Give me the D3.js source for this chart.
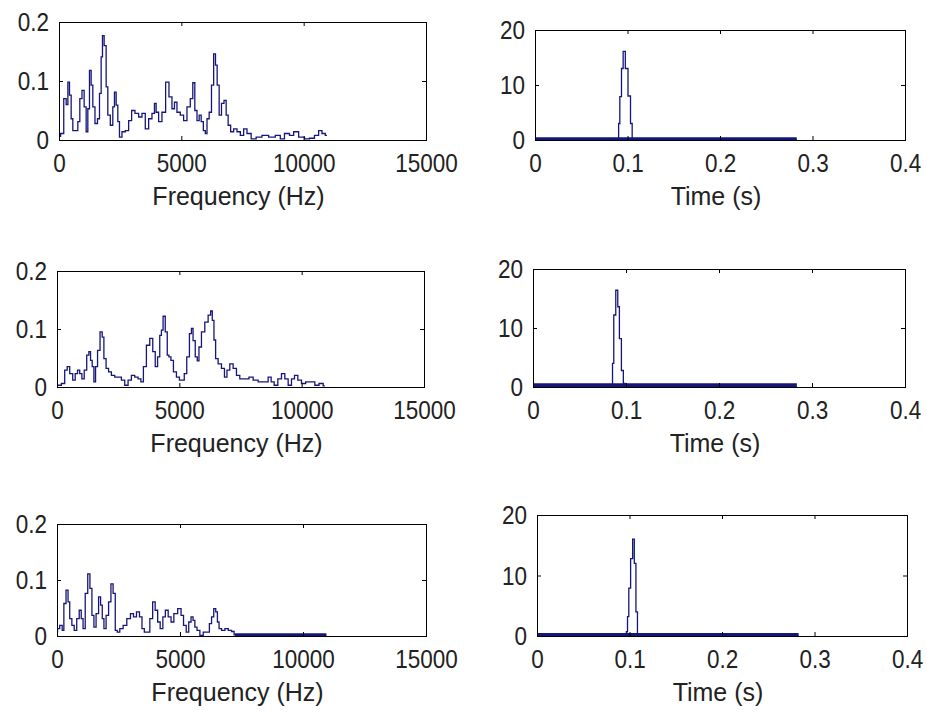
<!DOCTYPE html>
<html>
<head>
<meta charset="utf-8">
<script src="https://cdn.jsdelivr.net/npm/d3@7"></script>
<style>
  html, body { margin: 0; padding: 0; background: #fff; }
  svg { display: block; }
  text { font-family: "Liberation Sans", Arial, Helvetica, sans-serif; }
</style>
</head>
<body>
<svg id="chart" width="927" height="713"></svg>
<script>
// ---- Magnitude spectra (Hz, linear magnitude) ----
const freqA = [0,130,258,330,395,463,531,599,735,803,899,980,1076,1144,1212,1280,1348,1416,1525,1621,1689,1757,1798,1893,1961,2029,2165,2233,2302,2370,2438,2506,2642,2778,2914,3023,3187,3323,3459,3595,3732,3868,3936,4004,4140,4276,4440,4549,4685,4753,4889,5025,5162,5298,5434,5502,5599,5681,5777,5845,5954,6008,6090,6185,6280,6362,6430,6498,6594,6689,6798,6866,6961,7070,7207,7343,7479,7615,7751,7956,8160,8432,8705,8977,9113,9318,9522,9658,9931,10135,10339,10543,10680,10816,10952];
const magA = [0.006,0.011,0.07,0.06,0.098,0.076,0.036,0.016,0.016,0.031,0.07,0.084,0.056,0.014,0.053,0.118,0.093,0.056,0.028,0.036,0.079,0.141,0.177,0.16,0.09,0.042,0.025,0.056,0.081,0.059,0.031,0.005,0.014,0.016,0.033,0.05,0.045,0.039,0.045,0.019,0.036,0.045,0.062,0.047,0.031,0.047,0.098,0.073,0.053,0.064,0.047,0.042,0.033,0.056,0.07,0.097,0.05,0.033,0.042,0.031,0.016,0.011,0.036,0.047,0.093,0.146,0.127,0.093,0.042,0.062,0.067,0.042,0.025,0.014,0.019,0.014,0.008,0.019,0.011,0.002,0.005,0.008,0.005,0.008,0.002,0.011,0.008,0.014,0.005,0.002,0.003,0.008,0.016,0.011,0.008];

const freqB = [0,110,247,383,451,588,697,792,887,969,1065,1160,1269,1337,1405,1473,1542,1610,1705,1814,1882,1951,2060,2155,2291,2428,2564,2700,2836,2973,3109,3245,3382,3477,3586,3722,3859,3968,4063,4159,4240,4295,4377,4472,4540,4608,4704,4813,4949,5058,5154,5249,5358,5467,5522,5600,5700,5768,5836,5972,6109,6245,6313,6381,6449,6517,6654,6790,6899,6994,7131,7267,7403,7540,7744,7949,8085,8357,8562,8698,8807,8944,9107,9243,9380,9516,9652,9761,9925,10061,10266,10470,10607,10811,10947];
const magB = [0.003,0.003,0.006,0.029,0.035,0.023,0.012,0.023,0.029,0.023,0.014,0.029,0.055,0.061,0.046,0.035,0.009,0.035,0.063,0.095,0.086,0.049,0.032,0.026,0.02,0.017,0.017,0.012,0.003,0.012,0.02,0.017,0.014,0.009,0.035,0.072,0.084,0.061,0.035,0.052,0.089,0.098,0.122,0.095,0.055,0.052,0.046,0.026,0.017,0.012,0.012,0.023,0.052,0.092,0.101,0.08,0.052,0.045,0.069,0.095,0.112,0.124,0.131,0.115,0.081,0.049,0.04,0.032,0.017,0.029,0.04,0.032,0.02,0.014,0.014,0.017,0.012,0.009,0.009,0.017,0.009,0.003,0.014,0.023,0.014,0.003,0.014,0.02,0.012,0.006,0.009,0.009,0.003,0.006,0.002];

const freqC = [0,42,177,245,313,422,476,557,652,747,856,951,1019,1100,1195,1304,1372,1467,1534,1643,1738,1806,1874,1942,2050,2145,2240,2321,2416,2484,2620,2756,2919,3054,3163,3299,3407,3502,3597,3706,3841,3936,4045,4140,4248,4357,4452,4588,4683,4818,4995,5090,5198,5307,5402,5497,5564,5645,5740,5876,6012,6147,6242,6324,6419,6487,6554,6622,6758,6894,7029,7165,7233,8000,9000,10000,10950];
const magC = [0.008,0.013,0.019,0.01,0.058,0.082,0.061,0.031,0.019,0.01,0.031,0.046,0.031,0.013,0.076,0.111,0.085,0.037,0.016,0.04,0.07,0.055,0.031,0.013,0.037,0.061,0.093,0.076,0.01,0.007,0.013,0.019,0.031,0.04,0.034,0.043,0.034,0.013,0.007,0.007,0.031,0.061,0.046,0.025,0.013,0.034,0.046,0.034,0.025,0.04,0.049,0.037,0.019,0.007,0.025,0.034,0.028,0.016,0.01,0.001,0.007,0.007,0.022,0.034,0.049,0.043,0.025,0.013,0.01,0.013,0.01,0.008,0.002,0.002,0.002,0.002,0.002];
// low-level residue above 7.2 kHz in the third spectrum
const residueFreqC = [7233, 10950];
const residueMagC = 0.005;

// ---- Time-domain responses (s, amplitude) ----
const timeA = [0,0.0900,0.0908,0.0926,0.0944,0.0962,0.0991,0.1020,0.1045,0.1056,0.1070,0.283];
const ampA  = [0,0,3.0,7.9,13.0,16.1,13.0,8.0,3.0,0,0,0];
const timeB = [0,0.0850,0.0860,0.0877,0.0903,0.0920,0.0938,0.0963,0.0980,0.1000,0.2837];
const ampB  = [0,0.2,4.0,12.2,16.4,13.6,8.2,2.8,0.6,0,0];
const timeC = [0,0.0960,0.0973,0.0984,0.1001,0.1023,0.1045,0.1059,0.1080,0.1092,0.1100,0.2828];
const ampC  = [0,0,0.7,3.2,7.9,12.8,16.0,12.0,4.0,0.4,0,0];
// noise floor riding along the zero line of each response
const noiseFloor = [0.5, 0.65, 0.5];

// ---- Axis ticks ----
const freqTicks = [0, 5000, 10000, 15000];
const magTicks = [0, 0.1, 0.2];
const timeTicks = [0, 0.1, 0.2, 0.3, 0.4];
const ampTicks = [0, 10, 20];

const LINE = "#16167a";
const INK = "#222";
const FONT = 25;

// subplot frames: [left, top, right, bottom]
const panels = [
  { xs: freqA, ys: magA, box: [59, 22, 426, 140], kind: "freq" },
  { xs: timeA, ys: ampA, box: [535, 30, 905, 140], kind: "time", floor: noiseFloor[0] },
  { xs: freqB, ys: magB, box: [57, 271, 424, 387], kind: "freq" },
  { xs: timeB, ys: ampB, box: [533, 269, 905, 387], kind: "time", floor: noiseFloor[1] },
  { xs: freqC, ys: magC, box: [57, 524, 426, 636], kind: "freq", residue: [residueFreqC, residueMagC] },
  { xs: timeC, ys: ampC, box: [537, 515, 907, 636], kind: "time", floor: noiseFloor[2] }
];

const svg = d3.select("#chart");
svg.append("rect").attr("width", 927).attr("height", 713).attr("fill", "#fff");

panels.forEach((p, i) => {
  const [L, T, R, B] = p.box;
  const isFreq = p.kind === "freq";
  const x = d3.scaleLinear()
    .domain(isFreq ? [0, 15000] : [0, 0.4])
    .range([L, R]);
  const y = d3.scaleLinear()
    .domain(isFreq ? [0, 0.2] : [0, 20])
    .range([B, T]);
  const xt = isFreq ? freqTicks : timeTicks;
  const yt = isFreq ? magTicks : ampTicks;

  const g = svg.append("g");

  const clipId = "clip" + i;
  svg.append("clipPath").attr("id", clipId)
    .append("rect").attr("x", L).attr("y", T).attr("width", R - L).attr("height", B - T);

  const plot = g.append("g").attr("clip-path", `url(#${clipId})`);

  // noise floor band under the time responses
  if (p.floor) {
    const ext = d3.extent(p.xs);
    plot.append("path")
      .datum(ext)
      .attr("fill", LINE)
      .attr("d", d3.area().x(d => x(d)).y0(y(0)).y1(y(p.floor)));
  }
  if (p.residue) {
    const [fr, lvl] = p.residue;
    plot.append("path")
      .datum(fr)
      .attr("fill", LINE)
      .attr("d", d3.area().x(d => x(d)).y0(y(0)).y1(y(lvl)));
  }

  const pts = p.xs.map((v, k) => [v, p.ys[k]]);
  plot.append("path")
    .datum(pts)
    .attr("fill", "none")
    .attr("stroke", LINE)
    .attr("stroke-width", 1.3)
    .attr("stroke-linejoin", "miter")
    .attr("d", d3.line().x(d => x(d[0])).y(d => y(d[1])).curve(d3.curveStep));

  const fmt = d => String(d);

  // bottom axis with labels, ticks pointing inward
  const gx = g.append("g").attr("transform", `translate(0,${B})`)
    .call(d3.axisBottom(x).tickValues(xt).tickFormat(fmt)
      .tickSizeInner(-4).tickSizeOuter(0).tickPadding(14));
  // left axis with labels
  const gy = g.append("g").attr("transform", `translate(${L},0)`)
    .call(d3.axisLeft(y).tickValues(yt).tickFormat(fmt)
      .tickSizeInner(-4).tickSizeOuter(0).tickPadding(11));
  // mirrored ticks on top and right
  const gt = g.append("g").attr("transform", `translate(0,${T})`)
    .call(d3.axisTop(x).tickValues(xt).tickFormat("")
      .tickSizeInner(-4).tickSizeOuter(0));
  const gr = g.append("g").attr("transform", `translate(${R},0)`)
    .call(d3.axisRight(y).tickValues(yt).tickFormat("")
      .tickSizeInner(-4).tickSizeOuter(0));

  [gx, gy, gt, gr].forEach(a => {
    a.select(".domain").remove();
    a.selectAll("line").attr("stroke", "#000").attr("stroke-width", 1);
    a.selectAll("text")
      .attr("font-size", FONT)
      .attr("font-family", "\"Liberation Sans\", Arial, sans-serif")
      .attr("fill", INK)
      .attr("transform", "scale(0.9,1)");
  });
  gy.selectAll("text").attr("dy", "0.35em");

  // frame
  g.append("rect")
    .attr("x", L + 0.5).attr("y", T + 0.5)
    .attr("width", R - L).attr("height", B - T)
    .attr("fill", "none").attr("stroke", "#000").attr("stroke-width", 1);

  // axis title
  g.append("text")
    .attr("x", (L + R) / 2 - 4)
    .attr("y", B + 65)
    .attr("text-anchor", "middle")
    .attr("font-size", FONT)
    .attr("fill", INK)
    .text(isFreq ? "Frequency (Hz)" : "Time (s)");
});
</script>
</body>
</html>
